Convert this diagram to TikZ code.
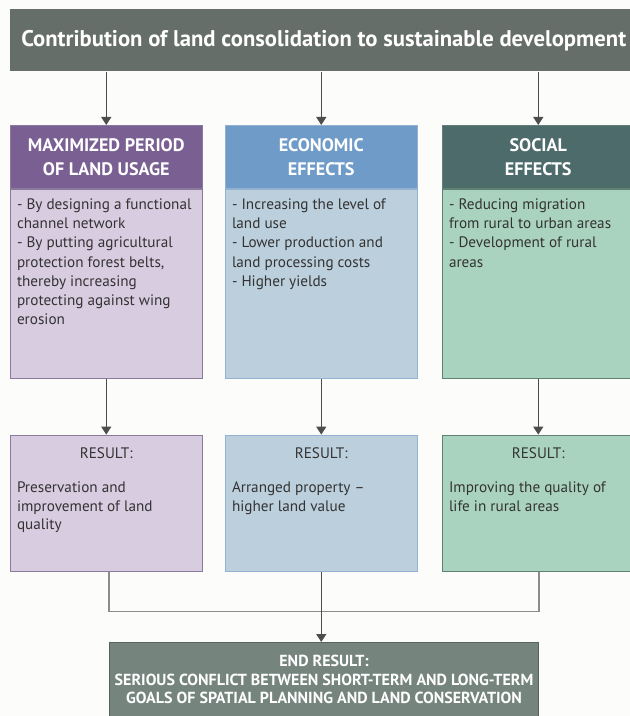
\documentclass[tikz,border=0pt]{standalone}
\usepackage{fontspec}
\setmainfont{PT Sans}
\usepackage{tikz}
\usetikzlibrary{arrows.meta,positioning,calc}

\definecolor{bgwhite}{HTML}{FCFCFA}
\definecolor{titlegray}{HTML}{656E69}
\definecolor{purplehd}{HTML}{7A5F93}
\definecolor{purplebd}{HTML}{D8CCE0}
\definecolor{purpleln}{HTML}{8C7A9E}
\definecolor{bluehd}{HTML}{6F9BC9}
\definecolor{bluebd}{HTML}{BCCFDC}
\definecolor{blueln}{HTML}{93B2D2}
\definecolor{tealhd}{HTML}{4E6B6B}
\definecolor{greenbd}{HTML}{AAD3BF}
\definecolor{greenln}{HTML}{5F8272}
\definecolor{endgray}{HTML}{75857E}
\definecolor{endln}{HTML}{56625C}
\definecolor{arrowgray}{HTML}{4D4D4D}
\definecolor{linkgray}{HTML}{8C8C8C}
\definecolor{textgray}{HTML}{333333}

\begin{document}
\begin{tikzpicture}[
  x=0.75pt, y=-0.75pt,
  titlebar/.style={fill=titlegray, text=white, anchor=north west, minimum width=627*0.75pt, minimum height=62*0.75pt, inner sep=0pt, font=\fontsize{17}{20}\selectfont\bfseries},
  head/.style={anchor=north west, minimum width=192*0.75pt, minimum height=63*0.75pt, inner sep=0pt, align=center, text=white, font=\fontsize{13.6}{18}\selectfont\bfseries},
  bodybox/.style={minimum width=192*0.75pt, minimum height=189*0.75pt, inner sep=0pt, line width=0.8pt},
  resbox/.style={minimum width=192*0.75pt, minimum height=136*0.75pt, inner sep=0pt, line width=0.8pt},
  note/.style={anchor=north west, align=left, inner sep=0pt, text=textgray, font=\fontsize{11.4}{14.4}\selectfont},
  restitle/.style={inner sep=0pt, text=textgray, font=\fontsize{11.4}{14}\selectfont},
  endbox/.style={fill=endgray, draw=endln, line width=0.8pt, minimum width=429*0.75pt, minimum height=74*0.75pt, inner sep=0pt, align=center, text=white, font=\fontsize{12}{13.9}\selectfont\bfseries},
  arrow/.style={-{Triangle[length=6pt, width=7.5pt]}, draw=arrowgray, line width=0.9pt},
  link/.style={draw=linkgray, line width=1.1pt}
]
  \path[use as bounding box, fill=bgwhite] (0,0) rectangle (630,716);

  \node[titlebar] (title) at (10,9) {Contribution of land consolidation to sustainable development};

  % column heads
  \node[head, fill=purplehd, draw=purpleln] (hd1) at (10,125) {MAXIMIZED PERIOD\\OF LAND USAGE};
  \node[head, fill=bluehd, draw=blueln] (hd2) at (225,125) {ECONOMIC\\EFFECTS};
  \node[head, fill=tealhd, draw=greenln] (hd3) at (442,125) {SOCIAL\\EFFECTS};

  % effects
  \node[bodybox, fill=purplebd, draw=purpleln, below=0pt of hd1] (bd1) {};
  \node[bodybox, fill=bluebd, draw=blueln, below=0pt of hd2] (bd2) {};
  \node[bodybox, fill=greenbd, draw=greenln, below=0pt of hd3] (bd3) {};

  \node[note] (bt1) at ([shift={(7,10)}]bd1.north west) {- By designing a functional\\channel network\\- By putting agricultural\\protection forest belts,\\thereby increasing\\protecting against wing\\erosion};
  \node[note] (bt2) at ([shift={(7,10)}]bd2.north west) {- Increasing the level of\\land use\\- Lower production and\\land processing costs\\- Higher yields};
  \node[note] (bt3) at ([shift={(7,10)}]bd3.north west) {- Reducing migration\\from rural to urban areas\\- Development of rural\\areas};

  % results
  \node[resbox, fill=purplebd, draw=purpleln, below=42pt of bd1] (res1) {};
  \node[resbox, fill=bluebd, draw=blueln, below=42pt of bd2] (res2) {};
  \node[resbox, fill=greenbd, draw=greenln, below=42pt of bd3] (res3) {};

  \node[restitle] (rt1) at ([shift={(0,19)}]res1.north) {RESULT:};
  \node[restitle] (rt2) at ([shift={(0,19)}]res2.north) {RESULT:};
  \node[restitle] (rt3) at ([shift={(0,19)}]res3.north) {RESULT:};

  \node[note, font=\fontsize{11.4}{13.9}\selectfont] (rx1) at ([shift={(7,47)}]res1.north west) {Preservation and\\improvement of land\\quality};
  \node[note, font=\fontsize{11.4}{13.9}\selectfont] (rx2) at ([shift={(7,47)}]res2.north west) {Arranged property --\\higher land value};
  \node[note, font=\fontsize{11.4}{13.9}\selectfont] (rx3) at ([shift={(7,47)}]res3.north west) {Improving the quality of\\life in rural areas};

  \node[endbox, anchor=north west] (final) at (109,642) {END RESULT:\\SERIOUS CONFLICT BETWEEN SHORT-TERM AND LONG-TERM\\GOALS OF SPATIAL PLANNING AND LAND CONSERVATION};

  \draw[arrow] (title.south -| hd1) -- (hd1);
  \draw[arrow] (title.south -| hd2) -- (hd2);
  \draw[arrow] (title.south -| hd3) -- (hd3);
  \draw[arrow] (bd1) -- (res1);
  \draw[arrow] (bd2) -- (res2);
  \draw[arrow] (bd3) -- (res3);

  \coordinate (join) at ([yshift=-30pt]res2.south);
  \draw[link] (final.west |- res1.south) |- (join -| final.east) -- (final.east |- res3.south);
  \draw[arrow] (res2.south) -- (res2.south |- final.north);
\end{tikzpicture}
\end{document}
